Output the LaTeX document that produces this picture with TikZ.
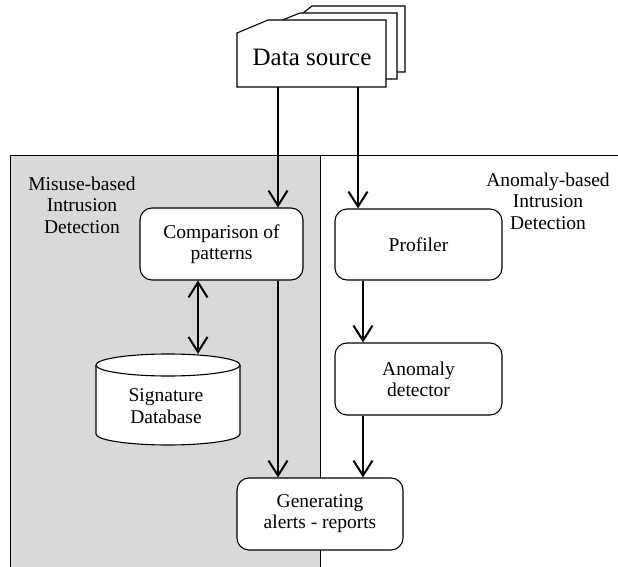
\documentclass[tikz,border=0pt]{standalone}
\usepackage{fontspec}
\setmainfont{Liberation Serif}
\usetikzlibrary{arrows.meta}
\definecolor{panel}{HTML}{D9D9D9}
\begin{document}
\begin{tikzpicture}[x=1pt,y=-1pt,
  box/.style={draw, line width=1.1pt, rounded corners=12pt, fill=white, align=center,
    font=\fontsize{19.5}{21}\selectfont, inner sep=0pt},
  arr/.style={line width=2pt, -{Straight Barb[length=15pt,width=19pt,line width=2pt]}},
  darr/.style={line width=2pt, {Straight Barb[length=15pt,width=19pt,line width=2pt]}-{Straight Barb[length=15pt,width=19pt,line width=2pt]}},
  lbl/.style={align=center, font=\fontsize{19.5}{21.5}\selectfont, inner sep=0pt},
  card/.style={draw, line width=1.1pt, fill=white, line join=miter}]
\useasboundingbox (0,0) rectangle (618,567);
% panels
\fill[panel] (10,155) rectangle (320,567);
\draw[line width=1pt] (10,567) -- (10,155) -- (618,155);
\draw[line width=1pt] (320,155) -- (320,567);
% data source cards
\draw[card] (294,20) -- (312,6) -- (405,6) -- (405,72) -- (294,72) -- cycle;
\draw[card] (270,25) -- (300,13) -- (397,13) -- (397,79) -- (270,79) -- cycle;
\draw[card] (237,33) -- (268,20) -- (386,20) -- (386,87) -- (237,87) -- cycle;
\node[minimum width=149pt, minimum height=67pt, inner sep=0pt] (ds) at (311.5,53.5) {};
\node[font=\fontsize{25}{27}\selectfont, inner sep=0pt] (dst) at (312,57) {Data source};
% labels
\node[lbl] (mis) at (82,205) {Misuse-based\\Intrusion\\Detection};
\node[lbl] (ano) at (548,201) {Anomaly-based\\Intrusion\\Detection};
% boxes
\node[box, minimum width=163pt, minimum height=72pt] (cmp) at (221.5,244) {Comparison of\\patterns};
\node[box, minimum width=167pt, minimum height=71pt] (prof) at (418.5,244.5) {Profiler};
\node[box, minimum width=167pt, minimum height=72pt] (anom) at (418.5,379) {Anomaly\\detector};
\node[box, minimum width=166pt, minimum height=72pt] (gen) at (320,514) {Generating\\alerts - reports};
% database cylinder
\fill[white] (96,365) -- (96,434) arc (180:360:72pt and 11pt) -- (240,365) arc (0:180:72pt and 11pt) -- cycle;
\draw[line width=1.1pt] (96,365) -- (96,434) arc (180:360:72pt and 11pt) -- (240,365);
\draw[line width=1.1pt] (168,365) ellipse (72pt and 11pt);
\node[minimum width=144pt, minimum height=91pt, inner sep=0pt] (db) at (168,399.5) {};
\node[lbl] (dbt) at (166,406) {Signature\\Database};
% connector x positions
\coordinate (xa) at (278,0);
\coordinate (xb) at (358,0);
\coordinate (xc) at (198,0);
\coordinate (xd) at (363,0);
% connectors
\draw[arr] (ds.south -| xa) -- (cmp.north -| xa);
\draw[arr] (ds.south -| xb) -- (prof.north -| xb);
\draw[arr] (cmp.south -| xa) -- (gen.north -| xa);
\draw[arr] (prof.south -| xd) -- (anom.north -| xd);
\draw[arr] (anom.south -| xd) -- (gen.north -| xd);
\draw[darr] (cmp.south -| xc) -- (db.north -| xc);
\end{tikzpicture}
\end{document}
